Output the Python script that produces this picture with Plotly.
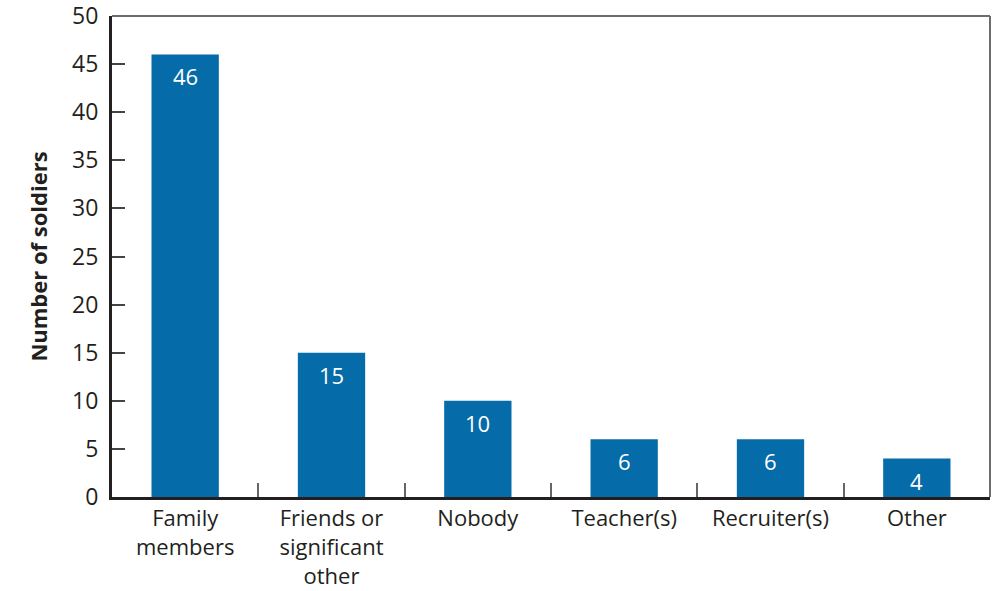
import plotly.graph_objects as go

categories = ["Family<br>members", "Friends or<br>significant<br>other", "Nobody",
              "Teacher(s)", "Recruiter(s)", "Other"]
values = [46, 15, 10, 6, 6, 4]
y_ticks = [0, 5, 10, 15, 20, 25, 30, 35, 40, 45, 50]

BAR = "#066BA9"
FONT = "Open Sans"
FS = 23

fig = go.Figure()
fig.add_trace(go.Bar(x=categories, y=values, marker=dict(color=BAR, line=dict(width=0)),
                     width=0.46, hoverinfo="skip"))

for c, v in zip(categories, values):
    fig.add_annotation(x=c, y=v, text=str(v), showarrow=False, yshift=-22,
                       yanchor="middle", font=dict(family=FONT, size=FS - 1, color="white"))

fig.update_layout(
    width=1002, height=591,
    margin=dict(l=112, r=12, t=16, b=94),
    paper_bgcolor="white", plot_bgcolor="white",
    showlegend=False,
    font=dict(family=FONT, size=FS, color="#231F20"),
    shapes=[
        dict(type="line", xref="paper", yref="paper", x0=0, x1=1, y0=1, y1=1,
             line=dict(color="#6d6d6d", width=2), layer="below"),
        dict(type="line", xref="paper", yref="paper", x0=1, x1=1, y0=0, y1=1,
             line=dict(color="#6d6d6d", width=2), layer="below"),
    ],
)
fig.update_xaxes(showline=True, linecolor="#231F20", linewidth=3,
                 ticks="inside", tickson="boundaries", ticklen=14, tickwidth=2,
                 tickcolor="#666666", showgrid=False, zeroline=False, automargin=False,
                 tickfont=dict(size=FS - 1), fixedrange=True, ticklabeloverflow="allow")
fig.update_yaxes(range=[0, 50], tickvals=y_ticks, showline=True, linecolor="#231F20",
                 linewidth=3, ticks="inside", ticklen=13, tickwidth=2, tickcolor="#444444",
                 showgrid=False, zeroline=False, ticklabelstandoff=6, automargin=False,
                 ticklabeloverflow="allow", fixedrange=True,
                 title=dict(text="<b>Number of soldiers</b>", font=dict(size=FS - 1), standoff=19),
                 tickfont=dict(size=FS))

fig.write_html("out.html", config={"displayModeBar": False},
               post_script="document.body.style.margin='0';")
